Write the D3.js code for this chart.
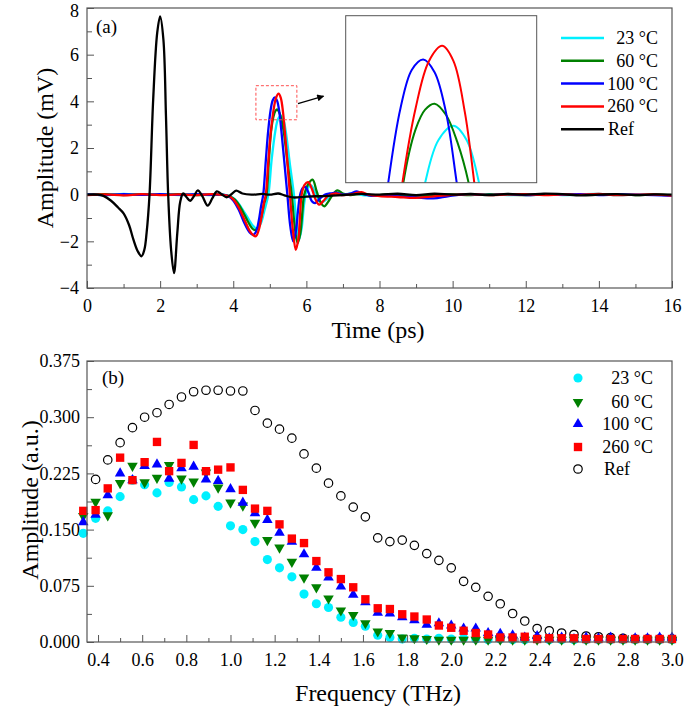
<!DOCTYPE html>
<html><head><meta charset="utf-8">
<script src="https://cdn.jsdelivr.net/npm/d3@7"></script>
<style>
body{margin:0;background:#fff;}
svg text{font-family:"Liberation Serif","Times New Roman",serif;fill:#000;}
</style></head>
<body><svg id="chart" width="685" height="714"></svg>
<script>
// ---------------- DATA ----------------
const seriesNames = ["23 °C","60 °C","100 °C","260 °C","Ref"];
const seriesColors = ["#00F0FF","#008000","#0000FF","#FF0000","#000000"];

// Panel (a): time-domain waveforms [time ps, amplitude mV]
const wave23 = [[0,0.02],[0.5,-0.02],[1,0.03],[1.5,-0.01],[2,0.02],[2.5,-0.02],[3,0.01],[3.4,-0.02],[3.7,0.0],[3.9,-0.06],[4.05,-0.2],[4.2,-0.5],[4.4,-1.0],[4.55,-1.35],[4.65,-1.45],[4.75,-1.25],[4.85,-0.7],[4.96,0],[5.05,1.5],[5.15,2.72],[5.22,3.22],[5.3,3.39],[5.37,3.22],[5.435,2.72],[5.55,1.3],[5.66,0],[5.73,-1.2],[5.8,-1.92],[5.87,-1.45],[5.93,-0.5],[5.98,0],[6.05,0.3],[6.13,0.4],[6.25,0.05],[6.4,-0.33],[6.55,-0.2],[6.7,0.02],[6.85,0.1],[7.0,0.02],[7.3,0.06],[7.6,-0.03],[8.0,-0.02],[8.5,-0.06],[9.0,-0.05],[9.5,-0.03],[10,0.02],[10.5,-0.01],[11,0.02],[11.5,-0.02],[12,0.01],[12.5,0.02],[13,-0.02],[13.5,0.01],[14,0.03],[14.5,-0.02],[15,0.01],[15.5,0.0],[16,-0.03]];
const wave60 = [[0,-0.01],[0.5,0.02],[1,-0.02],[1.5,0.02],[2,-0.01],[2.5,0.02],[3,-0.02],[3.4,0.01],[3.7,0.0],[3.9,-0.07],[4.05,-0.22],[4.2,-0.55],[4.4,-1.15],[4.52,-1.45],[4.6,-1.52],[4.68,-1.38],[4.78,-0.85],[4.85,-0.35],[4.91,0],[4.97,1.35],[5.035,2.72],[5.1,3.35],[5.15,3.58],[5.2,3.65],[5.26,3.52],[5.32,3.2],[5.38,2.72],[5.49,1.3],[5.6,0],[5.68,-1.35],[5.76,-2.08],[5.83,-1.7],[5.89,-0.75],[5.94,0],[6.05,0.45],[6.17,0.64],[6.28,0.15],[6.38,-0.3],[6.49,-0.5],[6.6,-0.3],[6.72,0],[6.85,0.18],[7.0,0.05],[7.2,-0.02],[7.5,0.04],[7.8,-0.04],[8.2,0.01],[8.6,-0.03],[9.0,-0.04],[9.5,-0.02],[10,0.01],[10.5,-0.02],[11,0.02],[11.5,0.0],[12,-0.02],[12.5,0.01],[13,0.02],[13.5,-0.01],[14,0.0],[14.5,0.02],[15,-0.02],[15.5,0.01],[16,-0.02]];
const wave100 = [[0,0.01],[0.5,-0.02],[1,0.02],[1.5,-0.01],[2,0.02],[2.5,-0.01],[3,0.02],[3.4,-0.01],[3.7,0.0],[3.88,-0.08],[4.0,-0.25],[4.15,-0.65],[4.3,-1.2],[4.45,-1.62],[4.54,-1.72],[4.62,-1.6],[4.7,-1.1],[4.76,-0.5],[4.82,0],[4.89,1.45],[4.955,2.72],[5.02,3.6],[5.08,4.05],[5.14,4.17],[5.2,4.02],[5.26,3.55],[5.317,2.72],[5.4,1.35],[5.48,0],[5.56,-1.35],[5.64,-2.0],[5.71,-1.6],[5.77,-0.7],[5.83,0],[5.9,0.28],[5.97,0.33],[6.06,0.08],[6.15,-0.28],[6.24,-0.36],[6.36,-0.18],[6.5,0.0],[6.65,0.05],[6.83,0.08],[7.0,0.0],[7.2,0.04],[7.38,0.14],[7.55,0.03],[7.8,-0.05],[8.2,-0.03],[8.6,-0.08],[9.0,-0.12],[9.47,-0.16],[9.9,-0.06],[10.4,0.02],[11,-0.01],[11.5,0.02],[12,-0.02],[12.5,0.01],[13,0.0],[13.5,0.02],[14,-0.02],[14.5,0.01],[15,0.0],[15.5,-0.02],[16,-0.05]];
const wave260 = [[0,-0.02],[0.5,0.01],[1,-0.03],[1.5,0.02],[2,-0.02],[2.5,0.01],[3,-0.02],[3.4,0.02],[3.7,-0.01],[3.88,-0.06],[4.0,-0.2],[4.15,-0.55],[4.3,-1.05],[4.45,-1.55],[4.55,-1.74],[4.62,-1.78],[4.7,-1.5],[4.78,-0.9],[4.84,-0.35],[4.89,0],[4.96,1.45],[5.03,2.72],[5.1,3.6],[5.17,4.15],[5.24,4.33],[5.3,4.15],[5.36,3.55],[5.41,2.72],[5.48,1.4],[5.55,0],[5.63,-1.5],[5.71,-2.36],[5.78,-1.9],[5.83,-0.8],[5.87,0],[5.95,0.42],[6.05,0.54],[6.15,0.25],[6.25,-0.2],[6.35,-0.43],[6.46,-0.28],[6.6,-0.05],[6.8,0.05],[7.0,-0.02],[7.25,0.02],[7.51,0.11],[7.7,0.0],[8.0,-0.06],[8.5,-0.1],[8.97,-0.14],[9.4,-0.08],[9.9,-0.02],[10.5,0.02],[11,-0.02],[11.5,0.01],[12,0.02],[12.5,-0.02],[13,0.01],[13.5,-0.01],[14,0.03],[14.5,-0.02],[15,0.0],[15.5,0.01],[16,-0.04]];
const waveRef = [[0,0],[0.3,0.0],[0.45,-0.05],[0.65,-0.25],[0.85,-0.55],[1.0,-0.8],[1.15,-1.3],[1.27,-1.93],[1.38,-2.4],[1.49,-2.64],[1.57,-2.35],[1.63,-1.64],[1.71,0],[1.81,4.07],[1.92,6.93],[2.0,7.64],[2.09,6.64],[2.16,3.36],[2.22,0],[2.3,-2.36],[2.38,-3.36],[2.47,-1.64],[2.55,-0.3],[2.63,0.05],[2.72,-0.1],[2.82,-0.26],[2.93,-0.05],[3.03,0.18],[3.15,-0.05],[3.3,-0.47],[3.43,-0.15],[3.55,0.14],[3.68,0.02],[3.82,-0.11],[3.95,0.02],[4.08,0.17],[4.25,0.05],[4.5,0.0],[4.8,0.03],[5.0,0.0],[5.23,0.05],[5.4,-0.03],[5.64,-0.12],[6.0,-0.08],[6.5,-0.06],[7.0,-0.02],[7.5,0.03],[8.0,0.0],[8.5,0.04],[9.0,-0.02],[9.5,0.04],[10,0.0],[10.5,0.03],[11,-0.02],[11.5,0.03],[12,0.0],[12.5,0.04],[13,0.02],[13.5,-0.03],[14,0.0],[14.5,0.02],[15,-0.02],[15.5,0.01],[16,0.0]];

const timeTicks = [0,2,4,6,8,10,12,14,16];
const ampTicksA = [-4,-2,0,2,4,6,8];
const zoomBox = {t0:4.62, t1:5.74, v0:3.21, v1:4.67};
const insetDomainT = [4.73, 5.74];
const insetDomainV = [2.72, 4.685];

// Panel (b): spectra
const freqTHz = [0.333,0.389,0.444,0.500,0.556,0.611,0.667,0.722,0.778,0.833,0.889,0.944,1.000,1.056,1.111,1.167,1.222,1.278,1.333,1.389,1.444,1.500,1.556,1.611,1.667,1.722,1.778,1.833,1.889,1.944,2.000,2.056,2.111,2.167,2.222,2.278,2.333,2.389,2.444,2.500,2.556,2.611,2.667,2.722,2.778,2.833,2.889,2.944,3.000];
const amp23 = [0.145,0.165,0.175,0.194,0.216,0.210,0.199,0.213,0.207,0.190,0.195,0.181,0.155,0.150,0.134,0.110,0.099,0.087,0.064,0.051,0.046,0.033,0.026,0.021,0.009,0.006,0.004,0.005,0.004,0.005,0.004,0.005,0.004,0.003,0.004,0.003,0.003,0.004,0.003,0.003,0.003,0.003,0.003,0.003,0.003,0.003,0.003,0.003,0.003];
const amp60 = [0.168,0.187,0.169,0.212,0.235,0.213,0.219,0.236,0.218,0.214,0.226,0.206,0.186,0.182,0.159,0.136,0.126,0.107,0.086,0.073,0.058,0.042,0.036,0.025,0.014,0.012,0.006,0.005,0.004,0.003,0.003,0.003,0.003,0.003,0.003,0.003,0.003,0.003,0.003,0.003,0.003,0.003,0.003,0.003,0.003,0.003,0.003,0.003,0.003];
const amp100 = [0.160,0.170,0.196,0.225,0.216,0.235,0.237,0.218,0.232,0.234,0.217,0.215,0.204,0.186,0.172,0.163,0.146,0.134,0.117,0.099,0.086,0.074,0.063,0.053,0.039,0.038,0.033,0.029,0.023,0.025,0.022,0.018,0.018,0.012,0.011,0.009,0.006,0.008,0.005,0.006,0.004,0.006,0.005,0.006,0.004,0.005,0.005,0.006,0.006];
const amp260 = [0.175,0.176,0.205,0.246,0.216,0.240,0.267,0.228,0.239,0.263,0.228,0.230,0.233,0.203,0.178,0.175,0.157,0.138,0.132,0.108,0.093,0.084,0.073,0.057,0.045,0.044,0.037,0.034,0.030,0.022,0.019,0.015,0.012,0.010,0.006,0.006,0.007,0.004,0.005,0.005,0.005,0.004,0.004,0.004,0.004,0.004,0.004,0.004,0.004];
const ampRef = [null,0.217,0.243,0.266,0.286,0.300,0.306,0.317,0.327,0.334,0.336,0.336,0.335,0.335,0.309,0.292,0.284,0.272,0.251,0.232,0.212,0.195,0.180,0.167,0.139,0.134,0.136,0.129,0.118,0.109,0.099,0.081,0.073,0.061,0.051,0.038,0.028,0.018,0.015,0.012,0.010,0.008,0.007,0.006,0.005,0.004,0.004,0.004,0.004];

const freqTicks = [0.4,0.6,0.8,1.0,1.2,1.4,1.6,1.8,2.0,2.2,2.4,2.6,2.8,3.0];
const ampTicksB = [0.000,0.075,0.150,0.225,0.300,0.375];

// ---------------- DRAW ----------------
const svg = d3.select("#chart");
const frameColor = "#555";
const defs = svg.append("defs");

// ===== Panel (a) =====
const A = {l:87, r:672, t:8, b:288};
const xA = d3.scaleLinear().domain([0,16]).range([A.l, A.r]);
const yA = d3.scaleLinear().domain([-4,8]).range([A.b, A.t]);

defs.append("clipPath").attr("id","clipA").append("rect")
  .attr("x",A.l).attr("y",A.t).attr("width",A.r-A.l).attr("height",A.b-A.t);

function styleAxis(g){
  g.select(".domain").remove();
  g.selectAll(".tick line").attr("stroke",frameColor);
  g.selectAll("text").style("font-size","18px").attr("fill","#000");
}

// minor ticks
svg.append("g").attr("transform",`translate(0,${A.b})`)
  .call(d3.axisBottom(xA).tickValues(d3.range(1,16,2)).tickSize(-4).tickFormat(""))
  .call(styleAxis);
svg.append("g").attr("transform",`translate(0,${A.b})`)
  .call(d3.axisBottom(xA).tickValues(timeTicks).tickSize(-7).tickPadding(11).tickFormat(d3.format("d")))
  .call(styleAxis);
svg.append("g").attr("transform",`translate(${A.l},0)`)
  .call(d3.axisLeft(yA).tickValues(d3.range(-3,8,2)).tickSize(-5).tickFormat(""))
  .call(styleAxis);
svg.append("g").attr("transform",`translate(${A.l},0)`)
  .call(d3.axisLeft(yA).tickValues(ampTicksA).tickSize(-7).tickPadding(8).tickFormat(d3.format("d")))
  .call(styleAxis)
  .call(g=>g.selectAll(".tick text").filter(d=>d===8).attr("dy","0.48em"));

const lineA = d3.line().x(d=>xA(d[0])).y(d=>yA(d[1])).curve(d3.curveCatmullRom.alpha(0.5));
const waves = [wave23, wave60, wave100, wave260, waveRef];
const gA = svg.append("g").attr("clip-path","url(#clipA)");
waves.forEach((w,i)=>{
  gA.append("path").datum(w).attr("d",lineA).attr("fill","none")
    .attr("stroke",seriesColors[i]).attr("stroke-width",2.3).attr("stroke-linejoin","round");
});

svg.append("rect").attr("x",A.l).attr("y",A.t).attr("width",A.r-A.l).attr("height",A.b-A.t)
  .attr("fill","none").attr("stroke",frameColor).attr("stroke-width",1.2);

// dashed zoom box
svg.append("rect")
  .attr("x",xA(zoomBox.t0)).attr("y",yA(zoomBox.v1))
  .attr("width",xA(zoomBox.t1)-xA(zoomBox.t0)).attr("height",yA(zoomBox.v0)-yA(zoomBox.v1))
  .attr("fill","none").attr("stroke","#FF5050").attr("stroke-width",1).attr("stroke-dasharray","3,2");

// arrow
defs.append("marker").attr("id","arrowhead").attr("viewBox","0 0 10 10").attr("refX",9).attr("refY",5)
  .attr("markerWidth",9).attr("markerHeight",7).attr("markerUnits","userSpaceOnUse").attr("orient","auto")
  .append("path").attr("d","M0,0 L10,5 L0,10 z").attr("fill","#000");
svg.append("line").attr("x1",xA(5.77)).attr("y1",yA(3.9)).attr("x2",xA(6.47)).attr("y2",yA(4.22))
  .attr("stroke","#000").attr("stroke-width",1.2).attr("marker-end","url(#arrowhead)");

// inset
const I = {l:345.7, r:536.7, t:15.7, b:182.7};
const xI = d3.scaleLinear().domain(insetDomainT).range([I.l, I.r]);
const yI = d3.scaleLinear().domain(insetDomainV).range([I.b, I.t]);
svg.append("rect").attr("x",I.l).attr("y",I.t).attr("width",I.r-I.l).attr("height",I.b-I.t).attr("fill","#fff");
defs.append("clipPath").attr("id","clipI").append("rect")
  .attr("x",I.l).attr("y",I.t).attr("width",I.r-I.l).attr("height",I.b-I.t);
const lineI = d3.line().x(d=>xI(d[0])).y(d=>yI(d[1])).curve(d3.curveCatmullRom.alpha(0.5));
const gI = svg.append("g").attr("clip-path","url(#clipI)");
[wave23, wave60, wave100, wave260].forEach((w,i)=>{
  gI.append("path").datum(w).attr("d",lineI).attr("fill","none")
    .attr("stroke",seriesColors[i]).attr("stroke-width",2);
});
svg.append("rect").attr("x",I.l).attr("y",I.t).attr("width",I.r-I.l).attr("height",I.b-I.t)
  .attr("fill","none").attr("stroke",frameColor).attr("stroke-width",1);

// legend (a)
const legA = {x1:561, x2:604, tx:658, rx:608, y0:38, dy:22.8};
seriesNames.forEach((n,i)=>{
  const y = legA.y0 + i*legA.dy;
  svg.append("line").attr("x1",legA.x1).attr("x2",legA.x2).attr("y1",y).attr("y2",y)
    .attr("stroke",seriesColors[i]).attr("stroke-width",2.5);
  const isRef = n==="Ref";
  svg.append("text").attr("x",isRef?legA.rx:legA.tx).attr("y",y+6)
    .attr("text-anchor",isRef?"start":"end").style("font-size","18px").text(n);
});

svg.append("text").attr("x",96).attr("y",33).style("font-size","19px").text("(a)");
svg.append("text").attr("x",378).attr("y",338).attr("text-anchor","middle").style("font-size","24px").text("Time (ps)");
svg.append("text").attr("transform",`translate(53,148) rotate(-90)`).attr("text-anchor","middle")
  .style("font-size","24px").text("Amplitude (mV)");

// ===== Panel (b) =====
const B = {l:87, r:672, t:361, b:642};
const xB = d3.scaleLinear().domain([0.35,3.0]).range([B.l, B.r]);
const yB = d3.scaleLinear().domain([0,0.375]).range([B.b, B.t]);

svg.append("g").attr("transform",`translate(0,${B.b})`)
  .call(d3.axisBottom(xB).tickValues(d3.range(0.5,3.0,0.2)).tickSize(-4).tickFormat(""))
  .call(styleAxis);
svg.append("g").attr("transform",`translate(0,${B.b})`)
  .call(d3.axisBottom(xB).tickValues(freqTicks).tickSize(-7).tickPadding(11).tickFormat(d3.format(".1f")))
  .call(styleAxis);
svg.append("g").attr("transform",`translate(${B.l},0)`)
  .call(d3.axisLeft(yB).tickValues(d3.range(0.0375,0.375,0.075)).tickSize(-5).tickFormat(""))
  .call(styleAxis);
svg.append("g").attr("transform",`translate(${B.l},0)`)
  .call(d3.axisLeft(yB).tickValues(ampTicksB).tickSize(-7).tickPadding(7).tickFormat(d3.format(".3f")))
  .call(styleAxis);

const gB = svg.append("g");
const symRef = d3.symbol().type(d3.symbolCircle).size(56);
const symCirc = d3.symbol().type(d3.symbolCircle).size(66);
const symTri = d3.symbol().type(d3.symbolTriangle).size(48);
const symSq = d3.symbol().type(d3.symbolSquare).size(70);

const specs = [
  {vals:ampRef, sym:symRef, fill:"none", stroke:"#000", rot:0, idx:4},
  {vals:amp23, sym:symCirc, fill:seriesColors[0], stroke:"none", rot:0, idx:0},
  {vals:amp60, sym:symTri, fill:seriesColors[1], stroke:"none", rot:180, idx:1},
  {vals:amp100, sym:symTri, fill:seriesColors[2], stroke:"none", rot:0, idx:2},
  {vals:amp260, sym:symSq, fill:seriesColors[3], stroke:"none", rot:0, idx:3}
];
specs.forEach(s=>{
  gB.append("g").selectAll("path")
    .data(freqTHz.map((f,i)=>[f,s.vals[i]]).filter(d=>d[1]!==null))
    .join("path").attr("d",s.sym())
    .attr("transform",d=>`translate(${xB(d[0])},${yB(d[1])}) rotate(${s.rot})`)
    .attr("fill",s.fill).attr("stroke",s.stroke).attr("stroke-width",1.2);
});

svg.append("rect").attr("x",B.l).attr("y",B.t).attr("width",B.r-B.l).attr("height",B.b-B.t)
  .attr("fill","none").attr("stroke",frameColor).attr("stroke-width",1.2);

// legend (b)
const legB = {mx:578, tx:653, rx:604, ys:[378,402,424,447,469]};
const legSpecs = [specs[1],specs[2],specs[3],specs[4],specs[0]];
legSpecs.forEach((s,i)=>{
  const y = legB.ys[i];
  svg.append("path").attr("d",s.sym()).attr("transform",`translate(${legB.mx},${y}) rotate(${s.rot})`)
    .attr("fill",s.fill).attr("stroke",s.stroke).attr("stroke-width",1.2);
  const n = seriesNames[s.idx];
  const isRef = n==="Ref";
  svg.append("text").attr("x",isRef?legB.rx:legB.tx).attr("y",y+6)
    .attr("text-anchor",isRef?"start":"end").style("font-size","18px").text(n);
});

svg.append("text").attr("x",102).attr("y",384).style("font-size","19px").text("(b)");
svg.append("text").attr("x",378).attr("y",701).attr("text-anchor","middle").style("font-size","24px").text("Frequency (THz)");
svg.append("text").attr("transform",`translate(38,500) rotate(-90)`).attr("text-anchor","middle")
  .style("font-size","24px").text("Amplitude (a.u.)");
</script>
</body></html>
